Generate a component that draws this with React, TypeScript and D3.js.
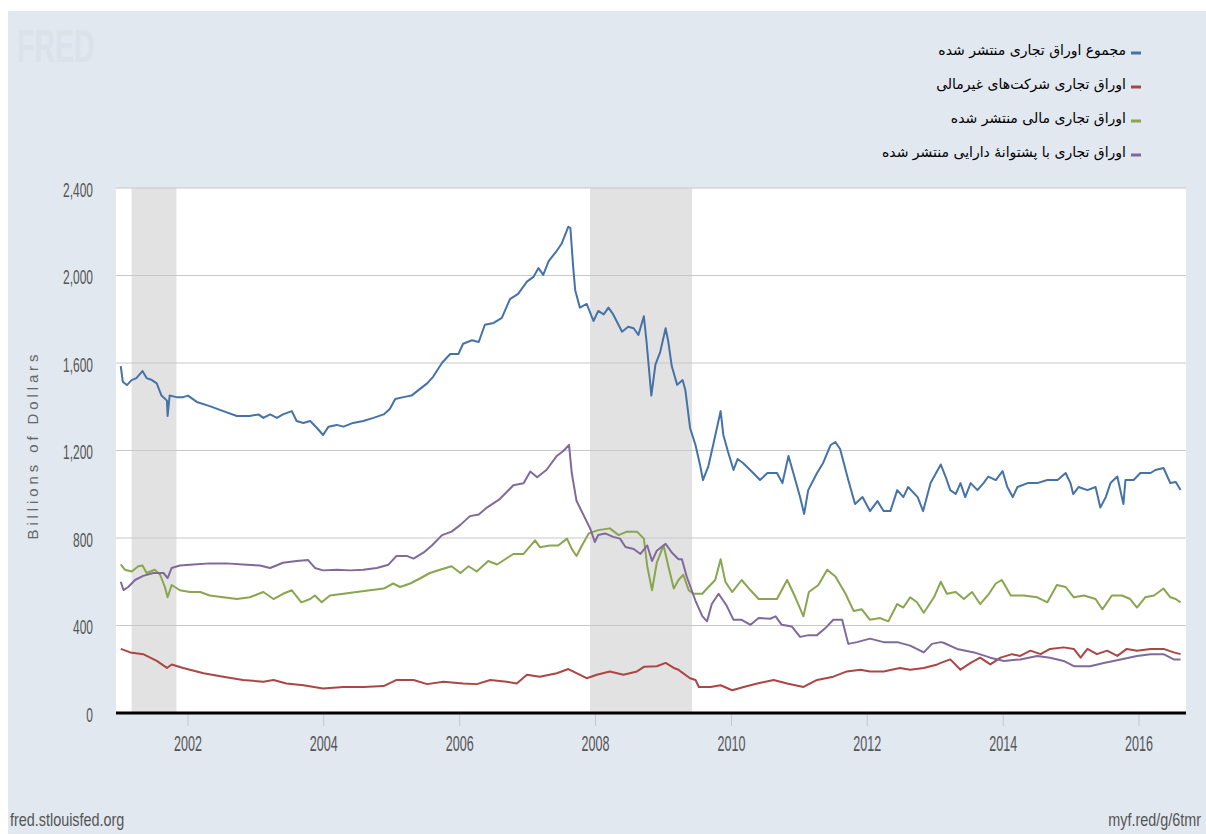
import React, { useRef, useEffect } from "react";
import * as d3 from "d3";

// series, [decimal year, billions of dollars]
const totalCP: [number, number][] = [
  [2001.01, 1586], [2001.04, 1514], [2001.10, 1499], [2001.17, 1522], [2001.24, 1531], [2001.33, 1563],
  [2001.39, 1531], [2001.47, 1522], [2001.54, 1507], [2001.61, 1451], [2001.69, 1428], [2001.70, 1358],
  [2001.73, 1451], [2001.83, 1444], [2001.93, 1444], [2002.00, 1451], [2002.13, 1422], [2002.32, 1403],
  [2002.52, 1380], [2002.72, 1358], [2002.91, 1358], [2003.04, 1365], [2003.11, 1349], [2003.21, 1365],
  [2003.31, 1349], [2003.40, 1365], [2003.53, 1380], [2003.60, 1335], [2003.70, 1326], [2003.80, 1335],
  [2003.90, 1303], [2003.99, 1271], [2004.07, 1309], [2004.19, 1317], [2004.29, 1309], [2004.43, 1326],
  [2004.58, 1335], [2004.73, 1349], [2004.88, 1365], [2004.97, 1390], [2005.05, 1435], [2005.17, 1444],
  [2005.29, 1451], [2005.42, 1483], [2005.52, 1507], [2005.61, 1538], [2005.74, 1601], [2005.86, 1641],
  [2005.98, 1641], [2006.05, 1688], [2006.18, 1704], [2006.28, 1696], [2006.37, 1775], [2006.50, 1783],
  [2006.62, 1806], [2006.74, 1892], [2006.86, 1916], [2006.99, 1972], [2007.09, 1995], [2007.16, 2034],
  [2007.23, 2003], [2007.31, 2066], [2007.43, 2113], [2007.50, 2145], [2007.60, 2223], [2007.63, 2217],
  [2007.67, 2043], [2007.70, 1934], [2007.77, 1853], [2007.87, 1870], [2007.97, 1792], [2008.04, 1838],
  [2008.12, 1822], [2008.19, 1853], [2008.26, 1822], [2008.39, 1743], [2008.48, 1766], [2008.56, 1759],
  [2008.63, 1728], [2008.71, 1814], [2008.75, 1696], [2008.82, 1451], [2008.88, 1593], [2008.95, 1650],
  [2009.03, 1759], [2009.07, 1696], [2009.12, 1586], [2009.20, 1500], [2009.28, 1522], [2009.32, 1477],
  [2009.39, 1303], [2009.47, 1225], [2009.54, 1129], [2009.58, 1065], [2009.66, 1129], [2009.73, 1225],
  [2009.84, 1380], [2009.88, 1271], [2009.95, 1193], [2010.03, 1111], [2010.09, 1161], [2010.17, 1143],
  [2010.32, 1097], [2010.42, 1065], [2010.53, 1097], [2010.67, 1097], [2010.75, 1051], [2010.84, 1175],
  [2010.94, 1065], [2011.01, 987], [2011.07, 910], [2011.13, 1019], [2011.26, 1097], [2011.35, 1143],
  [2011.46, 1225], [2011.53, 1239], [2011.60, 1207], [2011.72, 1065], [2011.82, 955], [2011.93, 987],
  [2012.04, 923], [2012.15, 969], [2012.24, 923], [2012.34, 923], [2012.44, 1019], [2012.53, 987],
  [2012.60, 1033], [2012.74, 987], [2012.82, 923], [2012.93, 1051], [2013.08, 1136], [2013.15, 1081],
  [2013.22, 1019], [2013.30, 1001], [2013.37, 1051], [2013.44, 987], [2013.52, 1051], [2013.62, 1019],
  [2013.71, 1051], [2013.78, 1081], [2013.89, 1065], [2013.99, 1106], [2014.06, 1033], [2014.14, 987],
  [2014.21, 1033], [2014.36, 1051], [2014.50, 1051], [2014.65, 1065], [2014.80, 1065], [2014.92, 1097],
  [2014.99, 1051], [2015.03, 1001], [2015.11, 1033], [2015.24, 1019], [2015.36, 1033], [2015.43, 939],
  [2015.51, 987], [2015.58, 1051], [2015.68, 1081], [2015.77, 955], [2015.80, 1065], [2015.92, 1065],
  [2016.02, 1097], [2016.17, 1097], [2016.24, 1111], [2016.36, 1120], [2016.46, 1051], [2016.54, 1056],
  [2016.61, 1019],
];

const nonfinancialCP: [number, number][] = [
  [2001.01, 293], [2001.15, 277], [2001.34, 269], [2001.54, 238], [2001.69, 206], [2001.76, 222],
  [2001.93, 206], [2002.23, 182], [2002.52, 166], [2002.81, 151], [2003.11, 143], [2003.26, 151],
  [2003.45, 135], [2003.70, 127], [2003.99, 112], [2004.29, 119], [2004.58, 119], [2004.88, 123],
  [2005.07, 151], [2005.32, 151], [2005.52, 132], [2005.76, 143], [2006.05, 135], [2006.25, 132],
  [2006.45, 151], [2006.69, 143], [2006.84, 135], [2006.99, 175], [2007.18, 166], [2007.43, 182],
  [2007.60, 201], [2007.72, 182], [2007.87, 159], [2008.02, 175], [2008.21, 190], [2008.41, 175],
  [2008.61, 190], [2008.71, 211], [2008.90, 214], [2009.03, 229], [2009.15, 206], [2009.22, 198],
  [2009.25, 190], [2009.39, 159], [2009.47, 151], [2009.52, 119], [2009.69, 119], [2009.84, 127],
  [2010.01, 104], [2010.18, 119], [2010.38, 135], [2010.62, 151], [2010.82, 135], [2011.06, 119],
  [2011.26, 151], [2011.50, 166], [2011.70, 190], [2011.90, 198], [2012.04, 190], [2012.24, 190],
  [2012.48, 206], [2012.63, 198], [2012.83, 206], [2013.03, 222], [2013.08, 229], [2013.22, 245],
  [2013.37, 198], [2013.52, 229], [2013.66, 253], [2013.81, 222], [2013.96, 253], [2014.13, 269],
  [2014.25, 261], [2014.40, 285], [2014.55, 269], [2014.69, 293], [2014.89, 300], [2015.04, 293],
  [2015.14, 253], [2015.24, 293], [2015.38, 269], [2015.53, 285], [2015.68, 261], [2015.82, 293],
  [2015.97, 285], [2016.17, 293], [2016.36, 293], [2016.51, 277], [2016.61, 269],
];

const financialCP: [number, number][] = [
  [2001.01, 679], [2001.07, 655], [2001.17, 647], [2001.27, 671], [2001.33, 674], [2001.39, 640],
  [2001.51, 655], [2001.59, 632], [2001.66, 576], [2001.70, 529], [2001.76, 585], [2001.88, 561],
  [2002.03, 553], [2002.18, 553], [2002.32, 537], [2002.52, 529], [2002.72, 521], [2002.91, 529],
  [2003.11, 553], [2003.26, 521], [2003.40, 545], [2003.53, 561], [2003.67, 506], [2003.80, 521],
  [2003.87, 537], [2003.97, 506], [2004.09, 537], [2004.29, 545], [2004.48, 553], [2004.68, 561],
  [2004.88, 569], [2005.02, 592], [2005.12, 576], [2005.27, 592], [2005.42, 616], [2005.56, 640],
  [2005.71, 655], [2005.88, 671], [2006.01, 640], [2006.13, 671], [2006.25, 647], [2006.42, 695],
  [2006.55, 679], [2006.67, 703], [2006.79, 727], [2006.94, 727], [2007.11, 789], [2007.18, 758],
  [2007.33, 766], [2007.45, 766], [2007.58, 797], [2007.65, 750], [2007.72, 718], [2007.80, 766],
  [2007.90, 821], [2008.04, 836], [2008.21, 844], [2008.34, 813], [2008.46, 829], [2008.61, 829],
  [2008.71, 797], [2008.76, 671], [2008.83, 561], [2008.90, 687], [2009.00, 766], [2009.07, 671],
  [2009.15, 569], [2009.22, 608], [2009.29, 632], [2009.37, 561], [2009.44, 545], [2009.57, 545],
  [2009.66, 576], [2009.76, 608], [2009.84, 703], [2009.91, 600], [2010.01, 553], [2010.15, 608],
  [2010.28, 561], [2010.40, 521], [2010.52, 521], [2010.67, 521], [2010.82, 608], [2010.94, 529],
  [2011.06, 442], [2011.14, 553], [2011.28, 585], [2011.41, 655], [2011.53, 624], [2011.68, 545],
  [2011.80, 466], [2011.92, 474], [2012.04, 426], [2012.19, 434], [2012.31, 419], [2012.44, 498],
  [2012.53, 482], [2012.63, 529], [2012.73, 506], [2012.83, 458], [2012.98, 529], [2013.08, 600],
  [2013.17, 545], [2013.30, 553], [2013.42, 521], [2013.54, 553], [2013.66, 498], [2013.79, 545],
  [2013.89, 592], [2013.98, 608], [2014.11, 537], [2014.30, 537], [2014.50, 529], [2014.65, 506],
  [2014.79, 585], [2014.92, 576], [2015.04, 529], [2015.19, 537], [2015.36, 521], [2015.46, 474],
  [2015.60, 537], [2015.75, 537], [2015.87, 521], [2015.97, 482], [2016.09, 529], [2016.22, 537],
  [2016.36, 569], [2016.46, 529], [2016.54, 521], [2016.61, 506],
];

const assetBackedCP: [number, number][] = [
  [2001.01, 600], [2001.05, 562], [2001.12, 576], [2001.22, 608], [2001.34, 627], [2001.49, 640],
  [2001.64, 640], [2001.70, 617], [2001.76, 663], [2001.88, 674], [2002.08, 679], [2002.32, 684],
  [2002.57, 684], [2002.81, 679], [2003.06, 674], [2003.21, 663], [2003.40, 687], [2003.60, 695],
  [2003.77, 699], [2003.87, 663], [2003.99, 652], [2004.19, 655], [2004.39, 652], [2004.58, 655],
  [2004.78, 663], [2004.95, 678], [2005.07, 718], [2005.22, 718], [2005.32, 706], [2005.47, 734],
  [2005.59, 766], [2005.74, 813], [2005.88, 829], [2006.01, 860], [2006.15, 900], [2006.28, 907],
  [2006.40, 939], [2006.59, 978], [2006.79, 1041], [2006.94, 1050], [2007.04, 1104], [2007.14, 1078],
  [2007.28, 1112], [2007.43, 1175], [2007.53, 1199], [2007.61, 1226], [2007.65, 1097], [2007.72, 970],
  [2007.82, 907], [2007.92, 844], [2007.99, 782], [2008.04, 814], [2008.14, 821], [2008.26, 805],
  [2008.36, 797], [2008.44, 759], [2008.56, 750], [2008.66, 727], [2008.76, 766], [2008.83, 695],
  [2008.90, 742], [2009.03, 773], [2009.12, 734], [2009.22, 703], [2009.27, 703], [2009.34, 624],
  [2009.47, 513], [2009.57, 443], [2009.64, 419], [2009.71, 498], [2009.81, 545], [2009.93, 490],
  [2010.03, 426], [2010.15, 426], [2010.28, 403], [2010.40, 434], [2010.57, 431], [2010.65, 442],
  [2010.74, 403], [2010.89, 395], [2011.01, 348], [2011.14, 356], [2011.26, 356], [2011.38, 387],
  [2011.50, 426], [2011.63, 426], [2011.72, 316], [2011.85, 324], [2012.04, 340], [2012.24, 324],
  [2012.44, 324], [2012.63, 308], [2012.83, 277], [2012.95, 316], [2013.08, 324], [2013.12, 321],
  [2013.32, 293], [2013.57, 277], [2013.81, 253], [2014.01, 238], [2014.25, 245], [2014.50, 261],
  [2014.69, 253], [2014.89, 238], [2015.04, 214], [2015.28, 214], [2015.48, 229], [2015.73, 245],
  [2015.97, 261], [2016.17, 269], [2016.36, 269], [2016.51, 245], [2016.61, 245],
];

const seriesNames = [
  "مجموع اوراق تجاری منتشر شده",
  "اوراق تجاری شرکت‌های غیرمالی",
  "اوراق تجاری مالی منتشر شده",
  "اوراق تجاری با پشتوانهٔ دارایی منتشر شده",
];
const seriesColors = ["#4572a7", "#aa4643", "#89a54e", "#80699b"];
const allSeries = [totalCP, nonfinancialCP, financialCP, assetBackedCP];

const recessions: [number, number][] = [
  [2001.17, 2001.83],
  [2007.92, 2009.42],
];
const yTicks = [0, 400, 800, 1200, 1600, 2000, 2400];
const xTickYears = [2002, 2004, 2006, 2008, 2010, 2012, 2014, 2016];

const toDate = (y: number) => {
  const yr = Math.floor(y);
  const start = new Date(yr, 0, 1).getTime();
  const end = new Date(yr + 1, 0, 1).getTime();
  return new Date(start + (y - yr) * (end - start));
};

// the chart uses a narrow face; squeeze a regular sans to match
const sans = "'Liberation Sans', Arial, sans-serif";
const squeeze = 0.57;

const App = () => {
  const svgRef = useRef<SVGSVGElement>(null);

  useEffect(() => {
    const width = 1206;
    const height = 834;
    const plot = { left: 116, right: 1186, top: 188, bottom: 713 };

    const svg = d3.select(svgRef.current).attr("width", width).attr("height", height);
    svg.selectAll("*").remove();

    // page background
    svg.append("rect").attr("x", 8).attr("y", 11).attr("width", width - 8).attr("height", height - 11).attr("fill", "#e1e8f0");

    // faint logo
    svg.append("text").attr("transform", "translate(17,62) scale(0.62,1)")
      .attr("font-family", sans).attr("font-weight", "bold")
      .attr("font-size", 46).attr("fill", "#dae2eb").text("FRED");

    const x = d3.scaleTime().domain([toDate(2000.94), toDate(2016.69)]).range([plot.left, plot.right]);
    const y = d3.scaleLinear().domain([0, 2400]).range([plot.bottom, plot.top]);

    svg.append("rect").attr("x", plot.left).attr("y", plot.top)
      .attr("width", plot.right - plot.left).attr("height", plot.bottom - plot.top).attr("fill", "#ffffff");

    // recession shading
    svg.append("g").selectAll("rect").data(recessions).join("rect")
      .attr("x", (d) => x(toDate(d[0])))
      .attr("y", plot.top)
      .attr("width", (d) => x(toDate(d[1])) - x(toDate(d[0])))
      .attr("height", plot.bottom - plot.top)
      .attr("fill", "#e2e2e2");

    // gridlines
    svg.append("g").selectAll("line").data(yTicks.filter((t) => t > 0)).join("line")
      .attr("x1", plot.left).attr("x2", plot.right)
      .attr("y1", (d) => y(d)).attr("y2", (d) => y(d))
      .attr("stroke", "#c8c8c8").attr("stroke-width", 1.2);

    // y tick labels
    svg.append("g").selectAll("text").data(yTicks).join("text")
      .attr("transform", (d) => `translate(93,${y(d) + 8.5}) scale(${squeeze},1)`)
      .attr("text-anchor", "end").attr("font-family", sans).attr("font-size", 21).attr("fill", "#555")
      .text((d) => d3.format(",")(d));

    svg.append("text")
      .attr("transform", `translate(38,${447}) rotate(-90)`)
      .attr("text-anchor", "middle").attr("font-family", sans)
      .attr("font-size", 15).attr("fill", "#666")
      .attr("textLength", 185).attr("lengthAdjust", "spacing")
      .text("Billions of Dollars");

    // x ticks
    const xt = svg.append("g");
    xt.selectAll("line").data(xTickYears).join("line")
      .attr("x1", (d) => x(toDate(d))).attr("x2", (d) => x(toDate(d)))
      .attr("y1", plot.bottom).attr("y2", plot.bottom + 13)
      .attr("stroke", "#c8c8c8").attr("stroke-width", 1);
    xt.selectAll("text").data(xTickYears).join("text")
      .attr("transform", (d) => `translate(${x(toDate(d))},751) scale(${squeeze},1)`)
      .attr("text-anchor", "middle").attr("font-family", sans).attr("font-size", 22).attr("fill", "#555")
      .text((d) => String(d));

    // series lines
    const line = d3.line<[number, number]>().x((d) => x(toDate(d[0]))).y((d) => y(d[1]));
    allSeries.forEach((s, i) => {
      svg.append("path").datum(s)
        .attr("fill", "none").attr("stroke", seriesColors[i]).attr("stroke-width", 2)
        .attr("stroke-linejoin", "round").attr("d", line);
    });

    // zero axis
    svg.append("line").attr("x1", plot.left).attr("x2", plot.right)
      .attr("y1", plot.bottom).attr("y2", plot.bottom).attr("stroke", "#000").attr("stroke-width", 3);

    // legend
    const lg = svg.append("g");
    seriesNames.forEach((name, i) => {
      const cy = 50 + i * 34;
      lg.append("line").attr("x1", 1131).attr("x2", 1141).attr("y1", cy + 3).attr("y2", cy + 3)
        .attr("stroke", seriesColors[i]).attr("stroke-width", 3);
      lg.append("text").attr("x", 1126).attr("y", cy + 5).attr("text-anchor", "end")
        .attr("font-family", "'DejaVu Sans', sans-serif").attr("font-size", 14).attr("fill", "#000")
        .text(name);
    });

    // footer
    svg.append("text").attr("transform", "translate(10,826) scale(0.8,1)")
      .attr("font-family", sans).attr("font-size", 18)
      .attr("fill", "#555").text("fred.stlouisfed.org");
    svg.append("text").attr("transform", "translate(1201,826) scale(0.8,1)")
      .attr("text-anchor", "end").attr("font-family", sans).attr("font-size", 18)
      .attr("fill", "#555").text("myf.red/g/6tmr");
  }, []);

  return (
    <svg ref={svgRef} style={{ position: "absolute", left: 0, top: 0, display: "block" }} />
  );
};

export default App;
